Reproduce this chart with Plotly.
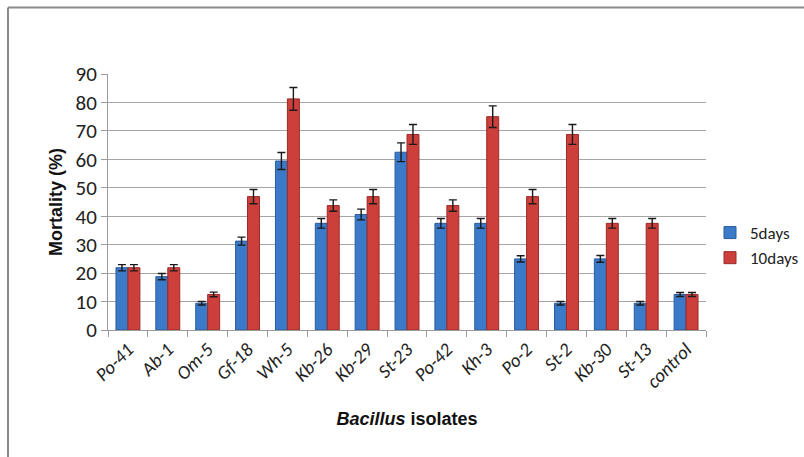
import plotly.graph_objects as go

# Bacillus isolates tested and their mortality (%) after 5 and 10 days
isolates = ["Po-41", "Ab-1", "Om-5", "Gf-18", "Wh-5", "Kb-26", "Kb-29", "St-23",
            "Po-42", "Kh-3", "Po-2", "St-2", "Kb-30", "St-13", "control"]
mortality_5d = [21.9, 18.75, 9.4, 31.25, 59.4, 37.5, 40.6, 62.5,
                37.5, 37.5, 25.0, 9.4, 25.0, 9.4, 12.5]
mortality_10d = [21.9, 21.9, 12.5, 46.9, 81.25, 43.75, 46.9, 68.75,
                 43.75, 75.0, 46.9, 68.75, 37.5, 37.5, 12.5]
err_5d = [1.1, 1.1, 0.6, 1.4, 3.0, 1.7, 1.9, 3.3,
          1.7, 1.7, 1.1, 0.6, 1.2, 0.6, 0.7]
err_10d = [1.1, 1.1, 0.8, 2.5, 4.0, 2.0, 2.5, 3.5,
           2.0, 3.8, 2.5, 3.5, 1.7, 1.7, 0.7]
y_ticks = [0, 10, 20, 30, 40, 50, 60, 70, 80, 90]

narrow = "Carlito, 'Liberation Sans Narrow', 'Arial Narrow', 'Liberation Sans', sans-serif"
arial = "'Liberation Sans', Arial, sans-serif"

W, H = 804, 457
ML, MR, MT, MB = 108, 98, 74, 127

fig = go.Figure()
fig.add_trace(go.Bar(
    name="5days", x=isolates, y=mortality_5d,
    marker=dict(color="#3b7ac8", line=dict(color="#2a5c9c", width=1)),
    error_y=dict(type="data", array=err_5d, color="#1a1a1a", thickness=1.4, width=4),
    legendgroup="a",
))
fig.add_trace(go.Bar(
    name="10days", x=isolates, y=mortality_10d,
    marker=dict(color="#cc3f3b", line=dict(color="#9c2a27", width=1)),
    error_y=dict(type="data", array=err_10d, color="#1a1a1a", thickness=1.4, width=4),
    legendgroup="b",
))

pw = W - ML - MR
ph = H - MT - MB
# outer frame lines (left and top edges)
fig.add_shape(type="line", xref="paper", yref="paper",
              x0=(8 - ML) / pw, x1=(8 - ML) / pw, y0=(H - MB - H) / ph, y1=(H - MB - 7.5) / ph,
              line=dict(color="#8a8a8a", width=2))
fig.add_shape(type="line", xref="paper", yref="paper",
              x0=(8 - ML) / pw, x1=(W - ML) / pw, y0=(H - MB - 7.5) / ph, y1=(H - MB - 7.5) / ph,
              line=dict(color="#8a8a8a", width=2))

fig.update_layout(
    width=W, height=H,
    margin=dict(l=ML, r=MR, t=MT, b=MB, pad=0, autoexpand=False),
    paper_bgcolor="white", plot_bgcolor="white",
    barmode="group", bargap=0.4, bargroupgap=0,
    showlegend=True,
    legend=dict(x=1.0067, y=0.33, xanchor="left", yanchor="middle",
                font=dict(family=narrow, size=17, color="#222222"),
                tracegroupgap=12, itemwidth=30, traceorder="normal",
                bgcolor="rgba(0,0,0,0)"),
    xaxis=dict(
        type="category",
        tickmode="array", tickvals=isolates,
        ticktext=[f"<i>{s}</i>" for s in isolates],
        tickangle=-45,
        tickfont=dict(family=narrow, size=19, color="#222222"),
        showline=True, linecolor="#9a9a9a", linewidth=1,
        ticks="outside", tickson="boundaries", ticklen=6, tickcolor="#9a9a9a",
        showgrid=False, automargin=False,
        title=dict(text="<i>Bacillus</i> isolates",
                   font=dict(family=arial, size=18, color="#111111", weight="bold"),
                   standoff=20),
    ),
    yaxis=dict(
        range=[0, 90], tickvals=y_ticks,
        tickfont=dict(family=narrow, size=21, color="#222222"),
        showgrid=True, gridcolor="#a6a6a6", gridwidth=1,
        showline=True, linecolor="#9a9a9a", linewidth=1,
        ticks="outside", ticklen=6, tickcolor="#9a9a9a",
        zeroline=False, automargin=False,
        title=dict(text="Mortality (%)",
                   font=dict(family=arial, size=18, color="#111111", weight="bold"),
                   standoff=8),
    ),
)

fig.write_html("out.html", config={"displayModeBar": False})
